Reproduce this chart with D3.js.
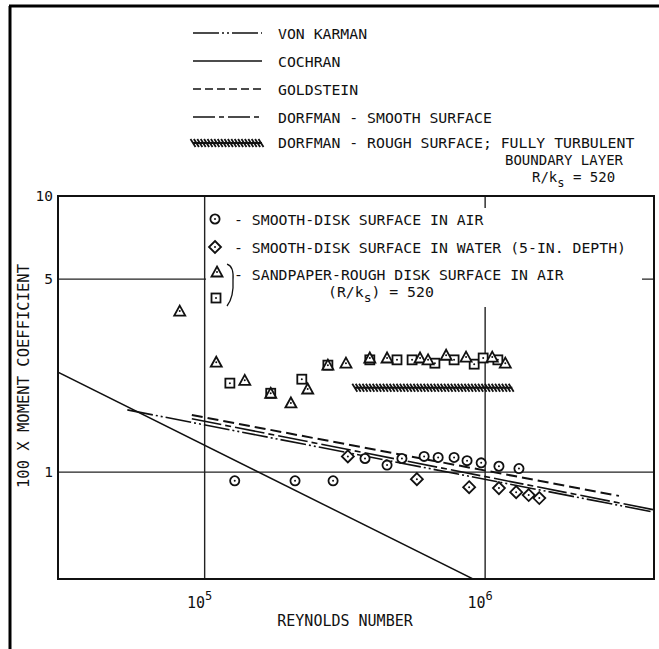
<!DOCTYPE html>
<html>
<head>
<meta charset="utf-8">
<script src="https://cdn.jsdelivr.net/npm/d3@7"></script>
<style>
  body { margin: 0; background: #fff; }
  text { font-family: "DejaVu Sans Mono", monospace; fill: #111; }
</style>
</head>
<body>
<div id="chart"></div>
<script>
// axes
var xTicks = [1e5, 1e6];
var xTickExp = ["5", "6"];
var yTicks = [10, 5, 1];
var yTickLabels = ["10", "5", "1"];

// curves (Reynolds number, 100 x moment coefficient)
var cochranRe = [3e4, 1e6];
var cochranCm = [2.30, 0.39];
var karmanRe = [5.3e4, 4e6];
var karmanCm = [1.68, 0.716];
var goldsteinRe = [9e4, 3e6];
var goldsteinCm = [1.61, 0.82];
var dorfmanRe = [9e4, 4e6];
var dorfmanCm = [1.56, 0.73];
var roughRe = [3.43e5, 1.25e6];
var roughCm = [2.02, 2.02];

// measurements
var airRe = [1.28e5, 2.1e5, 2.87e5, 3.73e5, 4.47e5, 5.05e5, 6.06e5, 6.8e5, 7.75e5, 8.62e5, 9.68e5, 1.12e6, 1.32e6];
var airCm = [0.93, 0.93, 0.93, 1.12, 1.06, 1.12, 1.14, 1.13, 1.13, 1.10, 1.08, 1.05, 1.03];
var waterRe = [3.24e5, 5.71e5, 8.77e5, 1.12e6, 1.29e6, 1.43e6, 1.56e6];
var waterCm = [1.14, 0.943, 0.882, 0.875, 0.846, 0.826, 0.805];
var triRe = [8.15e4, 1.10e5, 1.39e5, 1.72e5, 2.03e5, 2.33e5, 2.75e5, 3.19e5, 3.88e5, 4.47e5, 5.86e5, 6.26e5, 7.26e5, 8.55e5, 1.06e6, 1.18e6];
var triCm = [3.83, 2.50, 2.15, 1.93, 1.78, 2.00, 2.44, 2.48, 2.59, 2.59, 2.59, 2.55, 2.65, 2.61, 2.61, 2.48];
var sqRe = [1.23e5, 1.72e5, 2.22e5, 2.75e5, 3.88e5, 4.85e5, 5.49e5, 6.62e5, 7.75e5, 9.14e5, 9.84e5, 1.11e6];
var sqCm = [2.10, 1.93, 2.17, 2.44, 2.55, 2.55, 2.55, 2.48, 2.55, 2.46, 2.59, 2.55];

function init()
{
    var w = 659, h = 649;
    var left = 58, right = 654, top = 196, bottom = 579;

    var svg = d3.select("#chart").append("svg")
        .attr("width", w).attr("height", h);

    // page border
    svg.append("line").attr("x1", 9).attr("x2", 659).attr("y1", 6).attr("y2", 6)
        .attr("stroke", "#000").attr("stroke-width", 3);
    svg.append("line").attr("x1", 10).attr("x2", 10).attr("y1", 6).attr("y2", 649)
        .attr("stroke", "#000").attr("stroke-width", 3);

    var x = d3.scaleLog().domain([3e4, 4e6]).range([left, right]);
    var y = d3.scaleLog().domain([0.41, 10]).range([bottom, top]);

    svg.append("clipPath").attr("id", "plot")
        .append("rect").attr("x", left).attr("y", top)
        .attr("width", right - left).attr("height", bottom - top);

    // grid
    svg.selectAll(".gx").data(xTicks).enter().append("line")
        .attr("x1", function(d) { return x(d); }).attr("x2", function(d) { return x(d); })
        .attr("y1", top).attr("y2", bottom)
        .attr("stroke", "#222").attr("stroke-width", 1.4);
    svg.selectAll(".gy").data(yTicks.slice(1)).enter().append("line")
        .attr("x1", left).attr("x2", right)
        .attr("y1", function(d) { return y(d); }).attr("y2", function(d) { return y(d); })
        .attr("stroke", "#222").attr("stroke-width", 1.4);

    // frame
    svg.append("rect").attr("x", left).attr("y", top)
        .attr("width", right - left).attr("height", bottom - top)
        .attr("fill", "none").attr("stroke", "#111").attr("stroke-width", 2);

    // tick labels
    svg.selectAll(".yl").data(yTicks).enter().append("text")
        .attr("x", 53).attr("y", function(d) { return y(d) + 5; })
        .attr("text-anchor", "end").style("font-size", "14.5px")
        .text(function(d, i) { return yTickLabels[i]; });
    var xl = svg.selectAll(".xl").data(xTicks).enter().append("text")
        .attr("x", function(d) { return x(d) - 5; }).attr("y", 608)
        .attr("text-anchor", "middle").style("font-size", "15px");
    xl.append("tspan").text("10");
    xl.append("tspan").attr("dy", -8).style("font-size", "12px")
        .text(function(d, i) { return xTickExp[i]; });

    svg.append("text").attr("x", 345).attr("y", 626).attr("text-anchor", "middle")
        .style("font-size", "15px").text("REYNOLDS NUMBER");
    svg.append("text").attr("transform", "translate(29,376) rotate(-90)")
        .attr("text-anchor", "middle").style("font-size", "15.5px")
        .text("100 X MOMENT COEFFICIENT");

    var line = d3.line()
        .x(function(d) { return x(d[0]); })
        .y(function(d) { return y(d[1]); });

    var g = svg.append("g").attr("clip-path", "url(#plot)");

    function curve(re, cm, dash, sw) {
        g.append("path").datum(d3.zip(re, cm))
            .attr("d", line).attr("fill", "none")
            .attr("stroke", "#111").attr("stroke-width", sw)
            .attr("stroke-dasharray", dash);
    }
    curve(cochranRe, cochranCm, null, 1.5);
    curve(karmanRe, karmanCm, "26,3,2,3,2,3", 1.6);
    curve(dorfmanRe, dorfmanCm, "30,4,6,4", 1.6);
    curve(goldsteinRe, goldsteinCm, "11,5", 2);

    // rough surface hatched band
    function hatch(sel, x0, x1, yc) {
        sel.append("line").attr("x1", x0).attr("x2", x1).attr("y1", yc).attr("y2", yc)
            .attr("stroke", "#111").attr("stroke-width", 2);
        sel.selectAll(null).data(d3.range(x0, x1, 3.4)).enter().append("line")
            .attr("x1", function(d) { return d - 2.5; }).attr("x2", function(d) { return d + 2.5; })
            .attr("y1", yc - 4).attr("y2", yc + 4)
            .attr("stroke", "#111").attr("stroke-width", 1.8);
    }
    hatch(g.append("g"), x(roughRe[0]), x(roughRe[1]), y(roughCm[0]));

    // inner legend backdrop
    svg.append("rect").attr("x", 206).attr("y", 208).attr("width", 436).attr("height", 99)
        .attr("fill", "#fff");

    // markers
    function marker(sel, type) {
        var s = sel.append("g");
        if (type == "circle") {
            s.append("circle").attr("r", 4.6);
        } else if (type == "diamond") {
            s.append("path").attr("d", "M0,-6L6,0L0,6L-6,0Z");
        } else if (type == "tri") {
            s.append("path").attr("d", "M0,-5.5L5.5,4.5L-5.5,4.5Z");
        } else {
            s.append("rect").attr("x", -4.5).attr("y", -4.5).attr("width", 9).attr("height", 9);
        }
        s.selectAll("circle,path,rect").attr("fill", "#fff").attr("stroke", "#111").attr("stroke-width", 1.8);
        s.append("circle").attr("r", 1).attr("fill", "#111");
        return s;
    }
    function points(re, cm, type) {
        d3.zip(re, cm).forEach(function(d) {
            marker(svg, type).attr("transform", "translate(" + x(d[0]) + "," + y(d[1]) + ")");
        });
    }
    points(sqRe, sqCm, "square");
    points(triRe, triCm, "tri");
    points(airRe, airCm, "circle");
    points(waterRe, waterCm, "diamond");

    // inner legend
    var fs = "14.8px";
    marker(svg, "circle").attr("transform", "translate(215,219)");
    marker(svg, "diamond").attr("transform", "translate(215,247)");
    marker(svg, "tri").attr("transform", "translate(217,272)");
    marker(svg, "square").attr("transform", "translate(216,298)");
    svg.append("path").attr("d", "M227,264 Q234,266 233,280 Q234,297 227,306")
        .attr("fill", "none").attr("stroke", "#111").attr("stroke-width", 1.3);
    svg.append("text").attr("x", 234).attr("y", 225).style("font-size", fs)
        .text("- SMOOTH-DISK SURFACE IN AIR");
    svg.append("text").attr("x", 234).attr("y", 253).style("font-size", fs)
        .text("- SMOOTH-DISK SURFACE IN WATER (5-IN. DEPTH)");
    svg.append("text").attr("x", 234).attr("y", 280).style("font-size", fs)
        .text("- SANDPAPER-ROUGH DISK SURFACE IN AIR");
    var rk = svg.append("text").attr("x", 328).attr("y", 297).style("font-size", fs);
    rk.append("tspan").text("(R/k");
    rk.append("tspan").attr("dy", 5).style("font-size", "13px").text("s");
    rk.append("tspan").attr("dy", -5).text(") = 520");

    // top legend
    var lx0 = 193, lx1 = 262;
    var top_legend = [
        { label: "VON KARMAN", dash: "26,3,2,3,2,3", yy: 33 },
        { label: "COCHRAN", dash: null, yy: 61 },
        { label: "GOLDSTEIN", dash: "8,4", yy: 89 },
        { label: "DORFMAN - SMOOTH SURFACE", dash: "22,4,5,4", yy: 117 }
    ];
    top_legend.forEach(function(d) {
        svg.append("line").attr("x1", lx0).attr("x2", lx1).attr("y1", d.yy).attr("y2", d.yy)
            .attr("stroke", "#111").attr("stroke-width", 1.5).attr("stroke-dasharray", d.dash);
        svg.append("text").attr("x", 278).attr("y", d.yy + 6).style("font-size", fs).text(d.label);
    });
    hatch(svg.append("g"), lx0, lx1, 143);
    svg.append("text").attr("x", 278).attr("y", 148).style("font-size", fs)
        .text("DORFMAN - ROUGH SURFACE; FULLY TURBULENT");
    svg.append("text").attr("x", 505).attr("y", 165).style("font-size", "14px")
        .text("BOUNDARY LAYER");
    var rk2 = svg.append("text").attr("x", 532).attr("y", 182).style("font-size", "14px");
    rk2.append("tspan").text("R/k");
    rk2.append("tspan").attr("dy", 5).style("font-size", "12px").text("s");
    rk2.append("tspan").attr("dy", -5).text(" = 520");
}
window.onload = init;
</script>
</body>
</html>
